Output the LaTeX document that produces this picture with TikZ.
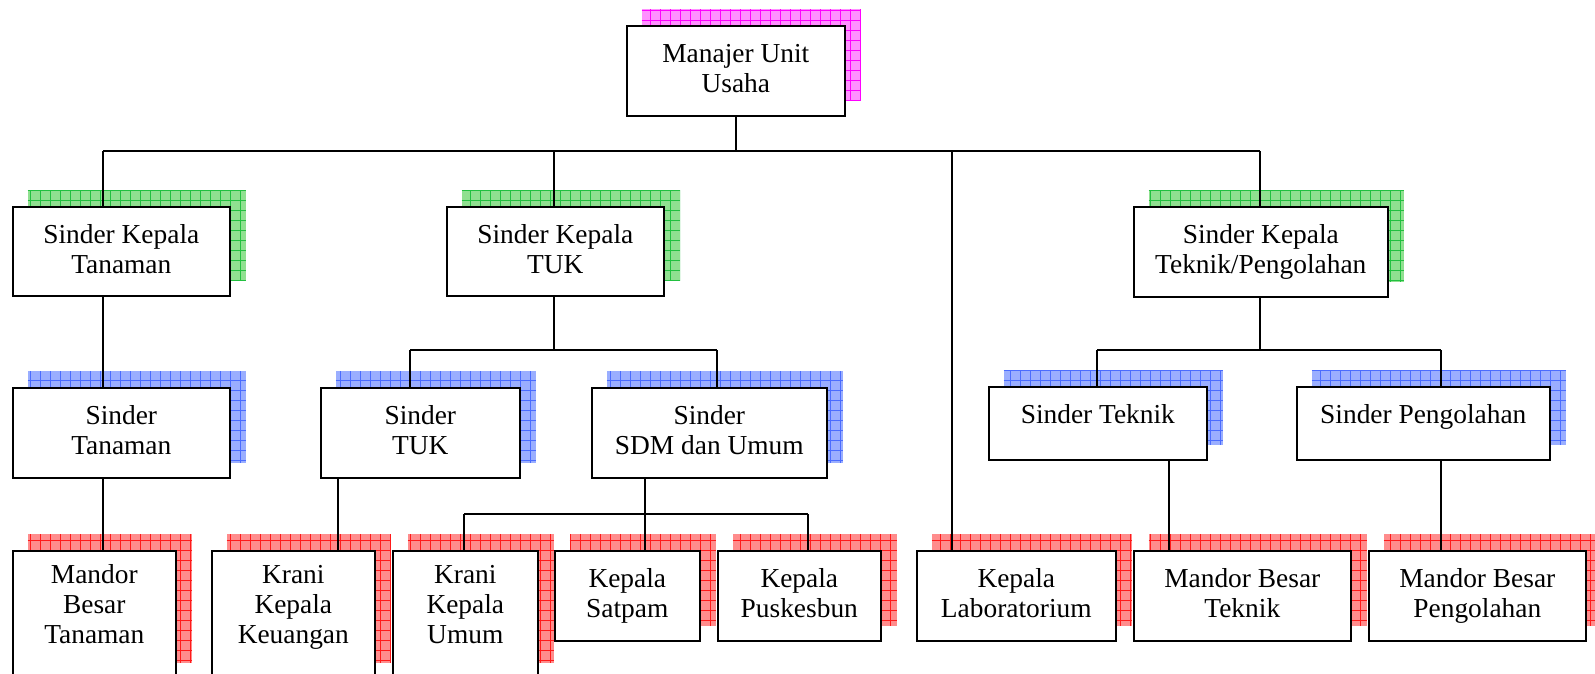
\documentclass[tikz,border=0pt]{standalone}
\usepackage{fontspec}
\setmainfont{Liberation Serif}
\usetikzlibrary{backgrounds}

\definecolor{fillmag}{HTML}{FF90FF}
\definecolor{linemag}{HTML}{FF00FF}
\definecolor{fillgrn}{HTML}{90E090}
\definecolor{linegrn}{HTML}{22C040}
\definecolor{fillblu}{HTML}{9AAEFF}
\definecolor{lineblu}{HTML}{4A6CFF}
\definecolor{fillred}{HTML}{FF8C8C}
\definecolor{linered}{HTML}{FF1A1A}

\tikzset{
  unit/.style={draw, line width=1.6pt, fill=white, inner sep=0pt, align=center,
    anchor=north west, text depth=5pt, font=\fontsize{27.4}{30}\selectfont},
  oneline/.style={text height=19pt, text depth=19pt},
  tall/.style={minimum height=127pt, text depth=20pt},
  link/.style={line width=1.5pt}
}

\begin{document}
\begin{tikzpicture}[x=1pt,y=1pt]
  \useasboundingbox (0,0) rectangle (1595,-673);

  % top
  \node[unit, minimum width=218pt, minimum height=90pt] (mut) at (626,-25) {Manajer Unit\\Usaha};

  % sinder kepala
  \node[unit, minimum width=217pt, minimum height=89pt] (skt) at (12,-206) {Sinder Kepala\\Tanaman};
  \node[unit, minimum width=217pt, minimum height=89pt] (sktuk) at (446,-206) {Sinder Kepala\\TUK};
  \node[unit, minimum width=254pt, minimum height=90pt] (sktp) at (1133,-206) {Sinder Kepala\\Teknik/Pengolahan};

  % sinder
  \node[unit, minimum width=217pt, minimum height=90pt] (st) at (12,-387) {Sinder\\Tanaman};
  \node[unit, minimum width=199pt, minimum height=90pt] (stuk) at (320,-387) {Sinder\\TUK};
  \node[unit, minimum width=235pt, minimum height=90pt] (ssdm) at (591,-387) {Sinder\\SDM dan Umum};
  \node[unit, oneline, minimum width=218pt, minimum height=73pt] (stek) at (988,-386) {Sinder Teknik};
  \node[unit, oneline, minimum width=253pt, minimum height=73pt] (speng) at (1296,-386) {Sinder Pengolahan};

  % mandor, krani, kepala
  \node[unit, tall, minimum width=163pt] (mbt) at (12,-550) {Mandor\\Besar\\Tanaman};
  \node[unit, tall, minimum width=163pt] (kkk) at (211,-550) {Krani\\Kepala\\Keuangan};
  \node[unit, tall, minimum width=145pt] (kku) at (392,-550) {Krani\\Kepala\\Umum};
  \node[unit, minimum width=145pt, minimum height=90pt] (ks) at (554,-550) {Kepala\\Satpam};
  \node[unit, minimum width=163pt, minimum height=90pt] (kp) at (717,-550) {Kepala\\Puskesbun};
  \node[unit, minimum width=199pt, minimum height=90pt] (klab) at (916,-550) {Kepala\\Laboratorium};
  \node[unit, minimum width=217pt, minimum height=90pt] (mbtek) at (1133,-550) {Mandor Besar\\Teknik};
  \node[unit, minimum width=217pt, minimum height=90pt] (mbp) at (1368,-550) {Mandor Besar\\Pengolahan};

  % shadows
  \begin{scope}[on background layer]
    \foreach \n/\col in {mut/mag, skt/grn, sktuk/grn, sktp/grn, st/blu, stuk/blu, ssdm/blu,
        stek/blu, speng/blu, mbt/red, kkk/red, kku/red, ks/red, kp/red, klab/red, mbtek/red, mbp/red} {
      \begin{scope}
        \path ([shift={(15.5,16)}]\n.south west) coordinate (sa)
              ([shift={(15.5,16)}]\n.north east) coordinate (sb);
        \clip (sa) rectangle (sb);
        \fill[fill\col] (sa) rectangle (sb);
        \draw[line\col, line width=0.7pt, step=10] (sa) grid (sb);
      \end{scope}
    }
  \end{scope}

  % connectors
  \coordinate (busl) at (103,-151);
  \coordinate (busr) at (1260,-151);
  \coordinate (lab) at (952,-151);
  \coordinate (tuk) at (554,-151);
  \draw[link] (mut.south) -- (mut.south |- busl);
  \draw[link] (busl) -- (busr);
  \draw[link] (busl) -- (busl |- skt.north);
  \draw[link] (tuk) -- (tuk |- sktuk.north);
  \draw[link] (busr) -- (busr |- sktp.north);
  \draw[link] (lab) -- (lab |- klab.north);

  \draw[link] (busl |- skt.south) -- (busl |- st.north);
  \draw[link] (busl |- st.south) -- (busl |- mbt.north);

  \coordinate (tukl) at (410,-350);
  \coordinate (tukr) at (717,-350);
  \draw[link] (tuk |- sktuk.south) -- (tuk |- tukl);
  \draw[link] (tukl) -- (tukr);
  \draw[link] (tukl) -- (tukl |- stuk.north);
  \draw[link] (tukr) -- (tukr |- ssdm.north);

  \coordinate (keu) at (338,-500);
  \draw[link] (keu |- stuk.south) -- (keu |- kkk.north);

  \coordinate (sdml) at (464,-514);
  \coordinate (sdmm) at (645,-514);
  \coordinate (sdmr) at (808,-514);
  \draw[link] (sdmm |- ssdm.south) -- (sdmm);
  \draw[link] (sdml) -- (sdmr);
  \draw[link] (sdml) -- (sdml |- kku.north);
  \draw[link] (sdmm) -- (sdmm |- ks.north);
  \draw[link] (sdmr) -- (sdmr |- kp.north);

  \coordinate (tpl) at (1097,-350);
  \coordinate (tpr) at (1441,-350);
  \draw[link] (busr |- sktp.south) -- (busr |- tpl);
  \draw[link] (tpl) -- (tpr);
  \draw[link] (tpl) -- (tpl |- stek.north);
  \draw[link] (tpr) -- (tpr |- speng.north);

  \coordinate (tek) at (1169,-500);
  \coordinate (pgl) at (1441,-500);
  \draw[link] (tek |- stek.south) -- (tek |- mbtek.north);
  \draw[link] (pgl |- speng.south) -- (pgl |- mbp.north);
\end{tikzpicture}
\end{document}
